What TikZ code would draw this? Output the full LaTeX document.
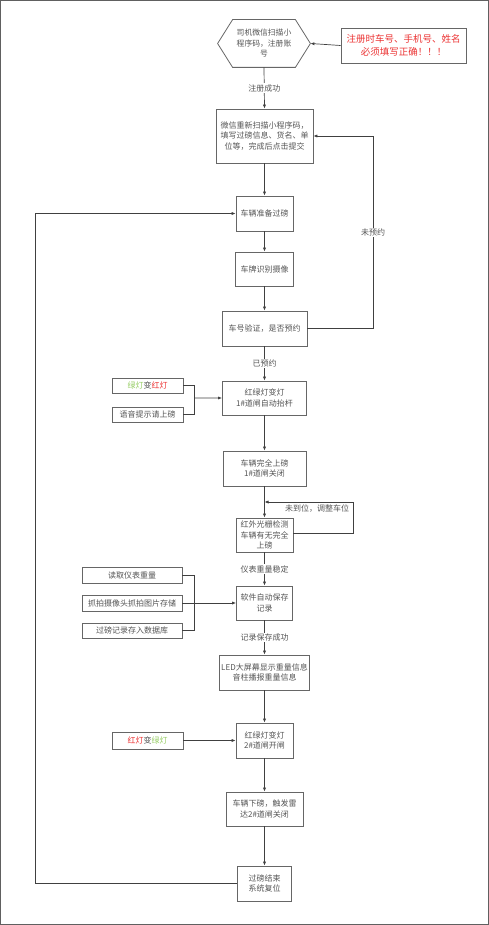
\documentclass[tikz,border=0pt]{standalone}
\usepackage{fontspec}
\newfontfamily\cjk{Noto Sans CJK SC}
\usetikzlibrary{arrows.meta,calc}
\definecolor{txt}{gray}{0.33}
\definecolor{lncol}{gray}{0.25}
\definecolor{bd}{gray}{0.4}
\definecolor{myred}{RGB}{235,50,50}
\definecolor{mygreen}{RGB}{150,205,100}
\begin{document}
\begin{tikzpicture}[x=1pt,y=-1pt,
  box/.style={draw=bd, line width=0.8pt, inner sep=0pt, align=center, text=txt, font=\cjk\fontsize{8}{10.5}\selectfont},
  lbl/.style={fill=white, inner sep=1pt, text=txt, font=\cjk\fontsize{8}{10}\selectfont},
  arr/.style={draw=lncol, line width=0.7pt, -{Latex[length=4pt,width=3.2pt]}},
  conn/.style={draw=lncol, line width=0.7pt}
]
\useasboundingbox (0,0) rectangle (489,925);
\draw[gray!75!black, line width=1.6pt] (0,0) rectangle (489,925);

% hexagon start
\node[box, draw=none, minimum width=92pt, minimum height=47pt, font=\cjk\fontsize{7.8}{10.5}\selectfont] (hex) at (264,43.5) {司机微信扫描小\\程序码，注册账\\号};
\draw[bd, line width=0.8pt] (hex.west) -- ($(hex.north west)+(15,0)$) -- ($(hex.north east)+(-15,0)$) -- (hex.east) -- ($(hex.south east)+(-15,0)$) -- ($(hex.south west)+(15,0)$) -- cycle;

\node[box, minimum width=125pt, minimum height=35pt, text=myred, font=\cjk\fontsize{9.5}{13}\selectfont] (note) at (403.5,45.5) {注册时车号、手机号、姓名\\必须填写正确！！！};

\node[box, minimum width=97pt, minimum height=54pt] (b1) at (264.5,136) {微信重新扫描小程序码，\\填写过磅信息、货名、单\\位等，完成后点击提交};
\node[box, minimum width=57pt, minimum height=35pt] (b2) at (264.5,213.5) {车辆准备过磅};
\node[box, minimum width=58pt, minimum height=34pt] (b3) at (264.5,269) {车牌识别摄像};
\node[box, minimum width=85pt, minimum height=35pt] (b4) at (264.5,328.5) {车号验证，是否预约};
\node[box, minimum width=84pt, minimum height=34pt] (b5) at (264.5,398) {红绿灯变灯\\1\#道闸自动抬杆};
\node[box, minimum width=71pt, minimum height=15pt] (s1) at (147.5,385.5) {{\color{mygreen}绿灯}变{\color{myred}红灯}};
\node[box, minimum width=71pt, minimum height=15pt] (s2) at (147.5,414.5) {语音提示请上磅};
\node[box, minimum width=83pt, minimum height=35pt] (b6) at (264.5,468.5) {车辆完全上磅\\1\#道闸关闭};
\node[box, minimum width=57pt, minimum height=34pt] (b7) at (264.5,535) {红外光栅检测\\车辆有无完全\\上磅};
\node[box, minimum width=56pt, minimum height=34pt] (b8) at (264.5,603) {软件自动保存\\记录};
\node[box, minimum width=100pt, minimum height=16pt] (t1) at (132,575) {读取仪表重量};
\node[box, minimum width=100pt, minimum height=16pt] (t2) at (132,603) {抓拍摄像头抓拍图片存储};
\node[box, minimum width=100pt, minimum height=15pt] (t3) at (132,630.5) {过磅记录存入数据库};
\node[box, minimum width=90pt, minimum height=35pt] (b9) at (264.5,672.5) {LED大屏幕显示重量信息\\音柱播报重量信息};
\node[box, minimum width=57pt, minimum height=35pt] (b10) at (264.5,740.5) {红绿灯变灯\\2\#道闸开闸};
\node[box, minimum width=71pt, minimum height=17pt] (s3) at (147.5,740.5) {{\color{myred}红灯}变{\color{mygreen}绿灯}};
\node[box, minimum width=77pt, minimum height=34pt] (b11) at (264.5,809) {车辆下磅，触发雷\\达2\#道闸关闭};
\node[box, minimum width=54pt, minimum height=35pt] (b12) at (264.5,883.5) {过磅结束\\系统复位};

% coordinates
\coordinate (rl) at (373,328.5);
\coordinate (fbx) at (353,533);
\coordinate (fbend) at (264.5,502);
\coordinate (j1) at (194,385.5);
\coordinate (j2) at (194,414.5);
\coordinate (j3) at (194,575);
\coordinate (j4) at (194,630.5);
\coordinate (ll) at (35,883.5);
\coordinate (lt) at (35,213.5);

% connectors
\draw[arr] (note.west) -- (hex.east);
\draw[arr] (hex.south) -- (b1.north) node[lbl, pos=0.5] {注册成功};
\draw[arr] (b1.south) -- (b2.north);
\draw[arr] (b2.south) -- (b3.north);
\draw[arr] (b3.south) -- (b4.north);
\draw[arr] (b4.east) -- (rl) |- (b1.east) node[lbl, pos=0.25] {未预约};
\draw[arr] (b4.south) -- (b5.north) node[lbl, pos=0.5] {已预约};
\draw[conn] (s1.east) -- (j1) -- (j2) -- (s2.east);
\draw[arr] ($(j1)!0.43!(j2)$) -- (b5.west);
\draw[arr] (b5.south) -- (b6.north);
\draw[arr] (b6.south) -- (b7.north);
\draw[arr] (b7.east |- fbx) -- (fbx) |- (fbend);
\node[text=txt, font=\cjk\fontsize{8}{10}\selectfont, inner sep=0pt] (lfb) at (317,509) {未到位，调整车位};
\draw[arr] (b7.south) -- (b8.north) node[lbl, pos=0.5] {仪表重量稳定};
\draw[conn] (t1.east) -- (j3) -- (j4) -- (t3.east);
\draw[arr] (t2.east) -- (b8.west);
\draw[arr] (b8.south) -- (b9.north) node[lbl, pos=0.5] {记录保存成功};
\draw[arr] (b9.south) -- (b10.north);
\draw[arr] (s3.east) -- (b10.west);
\draw[arr] (b10.south) -- (b11.north);
\draw[arr] (b11.south) -- (b12.north);
\draw[arr] (b12.west) -- (ll) -- (lt) -- (b2.west);
\end{tikzpicture}
\end{document}
